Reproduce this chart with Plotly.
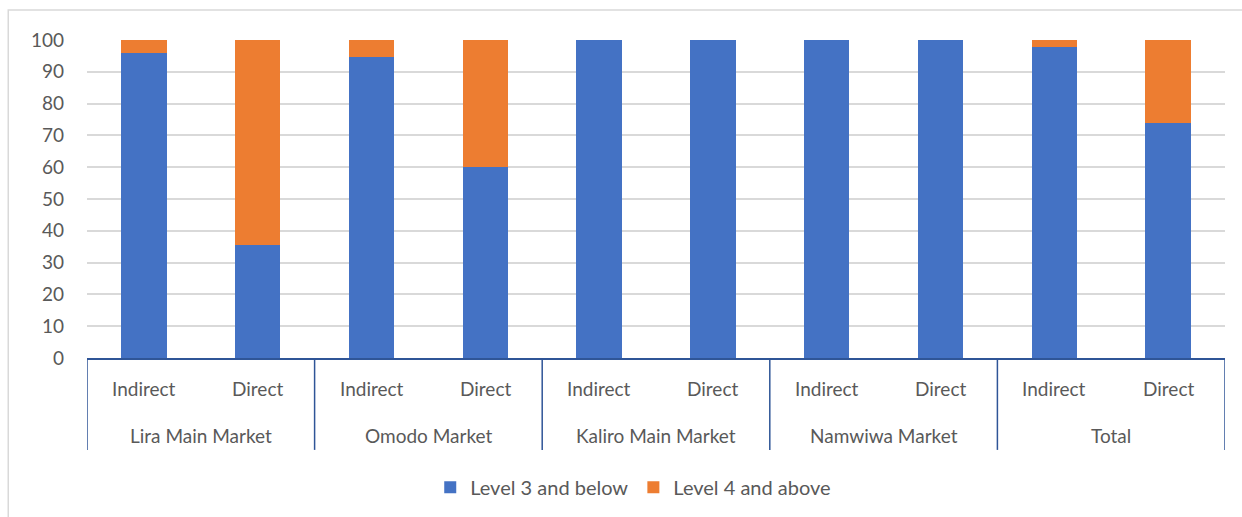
import plotly.graph_objects as go

markets = ["Lira Main Market", "Lira Main Market", "Omodo Market", "Omodo Market",
           "Kaliro Main Market", "Kaliro Main Market", "Namwiwa Market", "Namwiwa Market",
           "Total", "Total"]
channels = ["Indirect", "Direct"] * 5
level3_below = [96.0, 35.4, 94.6, 60.0, 100, 100, 100, 100, 97.8, 73.8]
level4_above = [4.0, 64.6, 5.4, 40.0, 0, 0, 0, 0, 2.2, 26.2]

pos = list(range(len(channels)))
font = "Lato, 'Open Sans', sans-serif"
grey = "#595959"
axis_blue = "#2F5597"

fig = go.Figure()
fig.add_trace(go.Bar(x=pos, y=level3_below, name="Level 3 and below", marker_color="#4472C4",
                     marker_line_width=0))
fig.add_trace(go.Bar(x=pos, y=level4_above, name="Level 4 and above", marker_color="#ED7D31",
                     marker_line_width=0))

fig.update_layout(
    barmode="stack",
    bargap=0.6,
    width=1242, height=517,
    margin=dict(l=87, r=17, t=40, b=159, autoexpand=False),
    plot_bgcolor="white", paper_bgcolor="white",
    font=dict(family=font, size=19, color=grey),
    legend=dict(orientation="h", x=0.48, xanchor="center", y=-0.345, yanchor="top",
                traceorder="normal", font=dict(size=20, color=grey), itemwidth=30),
    showlegend=True,
)
fig.update_yaxes(range=[0, 100], dtick=10, showgrid=True, gridcolor="#D9D9D9", gridwidth=1.5,
                 zeroline=False, showline=False, tickfont=dict(size=19, color=grey),
                 ticks="", ticklen=0, ticklabelstandoff=22, automargin=False)
fig.update_xaxes(range=[-0.5, len(pos) - 0.5], showline=True, linecolor=axis_blue, linewidth=1.5,
                 showticklabels=False, ticks="", showgrid=False, zeroline=False, automargin=False)

# category labels
for i, ch in enumerate(channels):
    fig.add_annotation(x=pos[i], y=-0.095, xref="x", yref="paper", text=ch, showarrow=False,
                       font=dict(size=19, color=grey), yanchor="middle")
groups = []
for i, m in enumerate(markets):
    if not groups or groups[-1][0] != m:
        groups.append([m, i, i])
    else:
        groups[-1][2] = i
for m, a, b in groups:
    fig.add_annotation(x=(pos[a] + pos[b]) / 2, y=-0.245, xref="x", yref="paper", text=m,
                       showarrow=False, font=dict(size=19, color=grey), yanchor="middle")
# dividers
edges = [pos[groups[0][1]] - 0.5] + [pos[b] + 0.5 for _, _, b in groups]
for e in edges:
    fig.add_shape(type="line", xref="x", yref="paper", x0=e, x1=e, y0=0, y1=-0.289,
                  line=dict(color=axis_blue, width=1.5))
# chart border
fig.add_shape(type="rect", xref="paper", yref="paper", x0=-0.0692, x1=1.02, y0=-0.6, y1=1.0944,
              line=dict(color="#D9D9D9", width=1.5))
fig.write_html("out.html")
